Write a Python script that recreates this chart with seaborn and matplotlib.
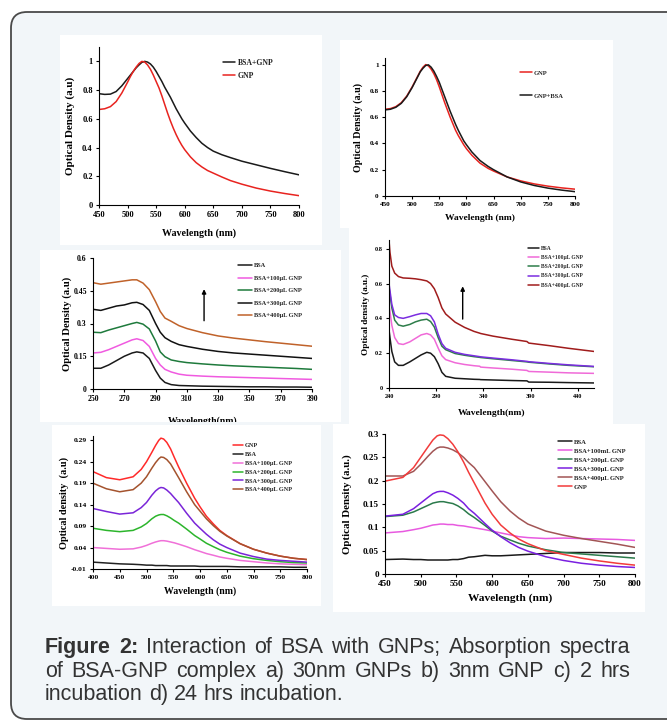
import numpy as np
import pandas as pd
import matplotlib
matplotlib.use('Agg')
import matplotlib.pyplot as plt
import seaborn as sns
from matplotlib.patches import Rectangle, FancyBboxPatch
from matplotlib.transforms import Bbox

W, H = 667, 722

# ---- a) 30nm GNPs ----
a_wl = [450, 460, 470, 480, 490, 500, 505, 510, 515, 520, 525, 530, 535, 540, 545, 550,
        555, 560, 565, 570, 575, 580, 585, 590, 595, 600, 610, 620, 630, 640, 650,
        665, 680, 700, 725, 750, 775, 800]
a_bsa_gnp = [.775, .77, .772, .79, .83, .88, .905, .93, .955, .975, .993, 1.0, .995, .982, .96, .93,
             .895, .86, .82, .785, .75, .71, .67, .635, .60, .57, .515, .47, .43, .40, .375,
             .35, .33, .305, .28, .255, .232, .21]
a_gnp = [.665, .67, .685, .72, .78, .855, .895, .93, .96, .985, 1.0, .995, .975, .945, .905, .86,
         .815, .76, .70, .64, .585, .535, .49, .45, .415, .385, .335, .295, .265, .24, .222,
         .195, .17, .145, .118, .097, .08, .065]

# ---- b) 3nm GNP ----
b_wl = [450, 460, 470, 480, 490, 500, 505, 510, 515, 520, 525, 530, 535, 540, 545, 550,
        555, 560, 565, 570, 575, 580, 585, 590, 595, 600, 610, 625, 640, 650,
        675, 700, 725, 750, 775, 800]
b_gnp = [.66, .665, .68, .71, .76, .83, .87, .91, .95, .98, 1.0, .99, .965, .93, .885, .83,
         .77, .71, .655, .60, .55, .50, .46, .425, .39, .36, .31, .25, .21, .19,
         .145, .115, .092, .075, .062, .052]
b_gnp_bsa = [.655, .66, .675, .705, .755, .825, .865, .905, .945, .972, .993, .998, .98, .95, .91, .865,
             .81, .755, .70, .645, .595, .545, .50, .46, .42, .39, .335, .27, .225, .20,
             .145, .107, .08, .06, .045, .033]

# ---- c) 2 hrs incubation ----
c_wl = [250, 255, 260, 265, 270, 275, 278, 282, 286, 290, 293, 296, 300, 305,
        310, 320, 330, 340, 350, 360, 370, 380, 390]
c_bsa = [.095, .095, .11, .13, .15, .165, .17, .165, .14, .085, .05, .03, .02, .016,
         .015, .013, .012, .011, .01, .01, .009, .009, .008]
c_100 = [.165, .168, .18, .195, .21, .225, .23, .222, .195, .14, .11, .09, .078, .068,
         .063, .059, .056, .054, .052, .05, .048, .046, .044]
c_200 = [.26, .258, .27, .28, .29, .30, .305, .297, .275, .22, .17, .148, .133, .126,
         .121, .115, .11, .106, .103, .10, .097, .094, .09]
c_300 = [.365, .36, .37, .38, .385, .395, .397, .387, .36, .30, .26, .235, .218, .203,
         .195, .182, .172, .165, .16, .155, .15, .145, .14]
c_400 = [.487, .48, .485, .49, .495, .50, .50, .485, .455, .40, .355, .325, .31, .29,
         .277, .258, .243, .233, .225, .217, .21, .203, .196]

# ---- d) 24 hrs incubation (UV region) ----
d_wl = [240, 241, 243, 246, 250, 255, 262, 268, 274, 280, 284, 288, 292, 296,
        300, 310, 320, 330, 336, 337, 350, 370, 386, 388, 410, 430, 457]
d_bsa = [.335, .29, .21, .15, .13, .13, .15, .17, .19, .205, .20, .18, .14, .09,
         .067, .056, .053, .05, .049, .048, .046, .043, .041, .034, .033, .031, .029]
d_100 = [.478, .44, .36, .29, .255, .25, .265, .285, .305, .313, .305, .28, .23, .185,
         .163, .145, .135, .128, .125, .12, .115, .108, .101, .095, .091, .087, .084]
d_200 = [.58, .54, .46, .39, .362, .355, .365, .38, .39, .395, .382, .35, .29, .24,
         .22, .198, .188, .18, .176, .175, .168, .158, .15, .148, .138, .13, .122]
d_300 = [.60, .56, .48, .42, .405, .40, .41, .42, .428, .428, .415, .38, .31, .255,
         .228, .205, .193, .185, .18, .179, .172, .162, .153, .151, .141, .133, .124]
d_400 = [.85, .78, .70, .66, .64, .632, .63, .627, .622, .615, .60, .57, .52, .46,
         .425, .378, .348, .325, .315, .313, .298, .28, .267, .258, .243, .228, .21]

# ---- e) 2 hrs incubation (visible) ----
e_wl = [400, 425, 450, 475, 490, 500, 510, 517, 523, 527, 532, 538, 545, 552, 560,
        575, 590, 600, 612, 625, 637, 650, 675, 700, 725, 750, 775, 800]
e_gnp = [.217, .203, .198, .205, .222, .24, .262, .278, .29, .295, .293, .285, .27, .25, .228,
         .19, .155, .135, .113, .095, .08, .068, .049, .036, .027, .02, .015, .012]
e_bsa = [.006, .004, .002, .001, .0, -.001, -.001, -.002, -.002, -.002, -.002, -.002, -.003, -.003, -.003,
         -.003, -.003, -.004, -.004, -.004, -.004, -.004, -.005, -.005, -.005, -.005, -.006, -.006]
e_100 = [.04, .038, .036, .037, .041, .045, .05, .053, .055, .056, .056, .055, .053, .051, .048,
         .042, .035, .031, .026, .022, .018, .015, .01, .007, .004, .002, .001, .0]
e_200 = [.085, .08, .077, .08, .088, .096, .107, .113, .116, .117, .117, .114, .109, .103, .097,
         .083, .068, .06, .05, .042, .035, .029, .02, .014, .01, .007, .005, .004]
e_300 = [.131, .124, .118, .121, .133, .145, .162, .172, .178, .18, .179, .174, .166, .156, .145,
         .12, .097, .085, .071, .058, .048, .04, .027, .019, .013, .01, .008, .006]
e_400 = [.19, .177, .17, .175, .19, .205, .225, .238, .247, .251, .25, .245, .235, .22, .203,
         .17, .14, .125, .107, .091, .078, .067, .049, .036, .027, .02, .015, .012]

# ---- f) 24 hrs incubation (visible) ----
f_wl = [450, 475, 490, 500, 510, 517, 523, 527, 532, 538, 545, 552, 560, 567,
        575, 590, 600, 612, 625, 637, 650, 675, 700, 725, 750, 775, 800]
f_bsa = [.031, .032, .031, .031, .03, .03, .03, .03, .03, .03, .031, .031, .033, .036,
         .037, .04, .039, .039, .04, .041, .042, .044, .046, .046, .046, .045, .045]
f_100 = [.088, .091, .095, .098, .102, .105, .106, .107, .107, .106, .106, .104, .103, .101,
         .099, .095, .092, .088, .084, .08, .078, .076, .077, .076, .075, .074, .072]
f_200 = [.123, .126, .133, .14, .147, .152, .154, .155, .155, .153, .151, .146, .138, .129,
         .121, .104, .092, .081, .073, .066, .06, .052, .046, .043, .04, .037, .034]
f_300 = [.124, .128, .14, .152, .164, .172, .176, .177, .177, .174, .169, .162, .152, .14,
         .13, .108, .094, .08, .067, .057, .049, .037, .029, .023, .019, .016, .014]
f_400 = [.21, .21, .22, .235, .252, .263, .27, .272, .272, .27, .266, .26, .25, .239,
         .228, .198, .178, .155, .135, .12, .107, .092, .083, .076, .07, .064, .057]
f_gnp = [.199, .207, .228, .25, .272, .287, .296, .298, .297, .29, .278, .262, .24, .218,
         .195, .152, .128, .105, .088, .075, .065, .05, .042, .034, .028, .023, .019]

cap_words = [
    ['Figure', '2:', 'Interaction', 'of', 'BSA', 'with', 'GNPs;', 'Absorption', 'spectra'],
    ['of', 'BSA-GNP', 'complex', 'a)', '30nm', 'GNPs', 'b)', '3nm', 'GNP', 'c)', '2', 'hrs'],
    ['incubation', 'd)', '24', 'hrs', 'incubation.'],
]

sns.set_theme(style='ticks')
plt.rcParams['font.family'] = ['Liberation Serif', 'DejaVu Serif']
plt.rcParams['font.weight'] = 'bold'

fig = plt.figure(figsize=(W / 100, H / 100), dpi=100)
fig.patch.set_facecolor('white')

# background "page" in pixel coordinates
bg = fig.add_axes([0, 0, 1, 1], zorder=-5)
bg.set_xlim(0, W)
bg.set_ylim(H, 0)
bg.axis('off')
bg.add_patch(FancyBboxPatch((11, 12), 720, 707, boxstyle='round,pad=0,rounding_size=16',
                            fc='#f2f6f9', ec='#4a4a4a', lw=1.3))
boxes = [(60, 35, 322, 245), (340, 40, 613, 228), (40, 250, 341, 422),
         (349, 228, 613, 425), (52, 425, 321, 606), (333, 424, 645, 612)]
for x0, y0, x1, y1 in boxes:
    bg.add_patch(Rectangle((x0, y0), x1 - x0, y1 - y0, fc='white', ec='none'))


def spectrum_frame(wl, curves):
    df = pd.DataFrame(curves)
    df['wl'] = wl
    return df.melt(id_vars='wl', var_name='sample', value_name='od')


def add_panel(box, wl, curves, colors, xlim, xticks, ylim, yticks, ytick_labels,
              xlabel, ylabel, xlab_y, ylab_x, lab_sizes, tick_size,
              leg_xy, leg_size, leg_space, leg_handle):
    l, t, r, b = box
    ax = fig.add_axes([l / W, 1 - b / H, (r - l) / W, (b - t) / H])
    ax.set_facecolor('white')
    df = spectrum_frame(wl, curves)
    sns.lineplot(data=df, x='wl', y='od', hue='sample', hue_order=list(curves),
                 palette=colors, estimator=None, sort=False, linewidth=1.1, ax=ax)
    ax.set_xlim(*xlim)
    ax.set_ylim(*ylim)
    ax.set_xticks(xticks)
    ax.set_xticklabels([str(v) for v in xticks])
    ax.set_yticks(yticks)
    ax.set_yticklabels(ytick_labels)
    ax.tick_params(direction='out', length=2.5, width=0.8, labelsize=tick_size,
                   pad=2, color='black', labelcolor='black')
    for lab in ax.get_xticklabels() + ax.get_yticklabels():
        lab.set_fontweight('bold')
    sns.despine(ax=ax)
    for s in ['left', 'bottom']:
        ax.spines[s].set_color('black')
        ax.spines[s].set_linewidth(0.8)
    ax.set_xlabel(xlabel, fontsize=lab_sizes[0], fontweight='bold', va='center', color='black')
    ax.set_ylabel(ylabel, fontsize=lab_sizes[1], fontweight='bold', va='center', color='black')
    ax.xaxis.set_label_coords(0.5, (b - xlab_y) / (b - t))
    ax.yaxis.set_label_coords((ylab_x - l) / (r - l), 0.5)
    handles, labels = ax.get_legend_handles_labels()
    ax.legend(handles, labels, loc='upper left',
              bbox_to_anchor=((leg_xy[0] - l) / (r - l), (b - leg_xy[1]) / (b - t)),
              frameon=False, prop={'size': leg_size, 'weight': 'bold'},
              handlelength=leg_handle, handletextpad=0.3, labelspacing=leg_space,
              borderpad=0, borderaxespad=0)
    return ax


vis_ticks = [450, 500, 550, 600, 650, 700, 750, 800]

ax_a = add_panel((99, 47, 299, 205), a_wl, {'BSA+GNP': a_bsa_gnp, 'GNP': a_gnp},
                 {'BSA+GNP': '#1a1a1a', 'GNP': '#e8231f'},
                 (450, 800), vis_ticks, (0, 1.1), [0, .2, .4, .6, .8, 1],
                 ['0', '0.2', '0.4', '0.6', '0.8', '1'],
                 'Wavelength (nm)', 'Optical Density (a.u)', 233, 70, (7.2, 8.0), 6.0,
                 (223, 59), 5.6, 0.6, 1.6)

ax_b = add_panel((385, 58, 575, 196), b_wl, {'GNP': b_gnp, 'GNP+BSA': b_gnp_bsa},
                 {'GNP': '#e8231f', 'GNP+BSA': '#1a1a1a'},
                 (450, 800), vis_ticks, (0, 1.05), [0, .2, .4, .6, .8, 1],
                 ['0', '0.2', '0.4', '0.6', '0.8', '1'],
                 'Wavelength (nm)', 'Optical Density (a.u)', 218, 358, (6.8, 7.2), 5.2,
                 (520, 70), 4.7, 2.7, 1.8)

ax_c = add_panel((93, 258, 312, 389), c_wl,
                 {'BSA': c_bsa, 'BSA+100µL GNP': c_100, 'BSA+200µL GNP': c_200,
                  'BSA+300µL GNP': c_300, 'BSA+400µL GNP': c_400},
                 ['#1a1a1a', '#f05ae0', '#1e7a3c', '#111111', '#c0622a'],
                 (250, 390), list(range(250, 391, 20)), (0, 0.6), [0, .15, .3, .45, .6],
                 ['0', '0.15', '0.3', '0.45', '0.6'],
                 'Wavelength(nm)', 'Optical Density (a.u)', 421, 67, (7.0, 7.7), 5.6,
                 (238, 263), 4.6, 1.1, 2.2)
ax_c.annotate('', xy=(321, 0.47), xytext=(321, 0.30),
              arrowprops=dict(arrowstyle='-|>', lw=1.0, color='black', mutation_scale=6))
ax_c.xaxis.label.set_clip_box(Bbox.from_extents(40, H - 422, 341, H - 250))
ax_c.xaxis.label.set_clip_on(True)

ax_d = add_panel((389, 240, 594, 388), d_wl,
                 {'BSA': d_bsa, 'BSA+100µL GNP': d_100, 'BSA+200µL GNP': d_200,
                  'BSA+300µL GNP': d_300, 'BSA+400µL GNP': d_400},
                 ['#1a1a1a', '#f06ad8', '#2e7d4a', '#7b2de0', '#a01c1c'],
                 (240, 457), [240, 290, 340, 390, 440], (0, 0.85), [0, .2, .4, .6, .8],
                 ['0', '0.2', '0.4', '0.6', '0.8'],
                 'Wavelength(nm)', 'Optical density (a.u.)', 413, 366, (6.8, 6.6), 4.5,
                 (528, 246), 4.0, 0.75, 2.0)
ax_d.annotate('', xy=(318, 0.60), xytext=(318, 0.38),
              arrowprops=dict(arrowstyle='-|>', lw=1.0, color='black', mutation_scale=6))

ax_e = add_panel((93, 436, 307, 569), e_wl,
                 {'GNP': e_gnp, 'BSA': e_bsa, 'BSA+100µL GNP': e_100, 'BSA+200µL GNP': e_200,
                  'BSA+300µL GNP': e_300, 'BSA+400µL GNP': e_400},
                 ['#ff2a2a', '#222222', '#f070d8', '#2cb52c', '#7a25d8', '#a4532e'],
                 (400, 800), list(range(400, 801, 50)), (-0.01, 0.30),
                 [-.01, .04, .09, .14, .19, .24, .29],
                 ['-0.01', '0.04', '0.09', '0.14', '0.19', '0.24', '0.29'],
                 'Wavelength (nm)', 'Optical density  (a.u)', 591, 64, (7.0, 7.4), 5.4,
                 (233, 443), 4.5, 0.55, 1.6)

ax_f = add_panel((385, 434, 635, 574), f_wl,
                 {'BSA': f_bsa, 'BSA+100mL GNP': f_100, 'BSA+200µL GNP': f_200,
                  'BSA+300µL GNP': f_300, 'BSA+400µL GNP': f_400, 'GNP': f_gnp},
                 ['#1a1a1a', '#e85ae0', '#2b7a4b', '#7a1fe0', '#a25555', '#f23b3b'],
                 (450, 800), vis_ticks, (0, 0.3), [0, .05, .1, .15, .2, .25, .3],
                 ['0', '0.05', '0.1', '0.15', '0.2', '0.25', '0.3'],
                 'Wavelength (nm)', 'Optical Density (a.u.)', 598, 347, (8.2, 7.8), 6.6,
                 (558, 439), 4.8, 0.5, 2.1)

# caption, justified like the source page
renderer = fig.canvas.get_renderer()
cap_size = 15.5
cap_base = [653, 677, 700]
cap_left, cap_right = 45, 630
for i, words in enumerate(cap_words):
    texts = []
    for j, w in enumerate(words):
        weight = 'bold' if (i == 0 and j < 2) else 'normal'
        texts.append(bg.text(0, cap_base[i], w, fontsize=cap_size, family='Liberation Sans',
                             weight=weight, color='#333333', ha='left', va='baseline'))
    widths = [tx.get_window_extent(renderer).width for tx in texts]
    if i < len(cap_words) - 1:
        gap = (cap_right - cap_left - sum(widths)) / (len(words) - 1)
    else:
        gap = 0.278 * cap_size * 100 / 72
    x = cap_left
    for tx, wdt in zip(texts, widths):
        tx.set_x(x)
        x += wdt + gap

fig.savefig('out.png', dpi=100)
